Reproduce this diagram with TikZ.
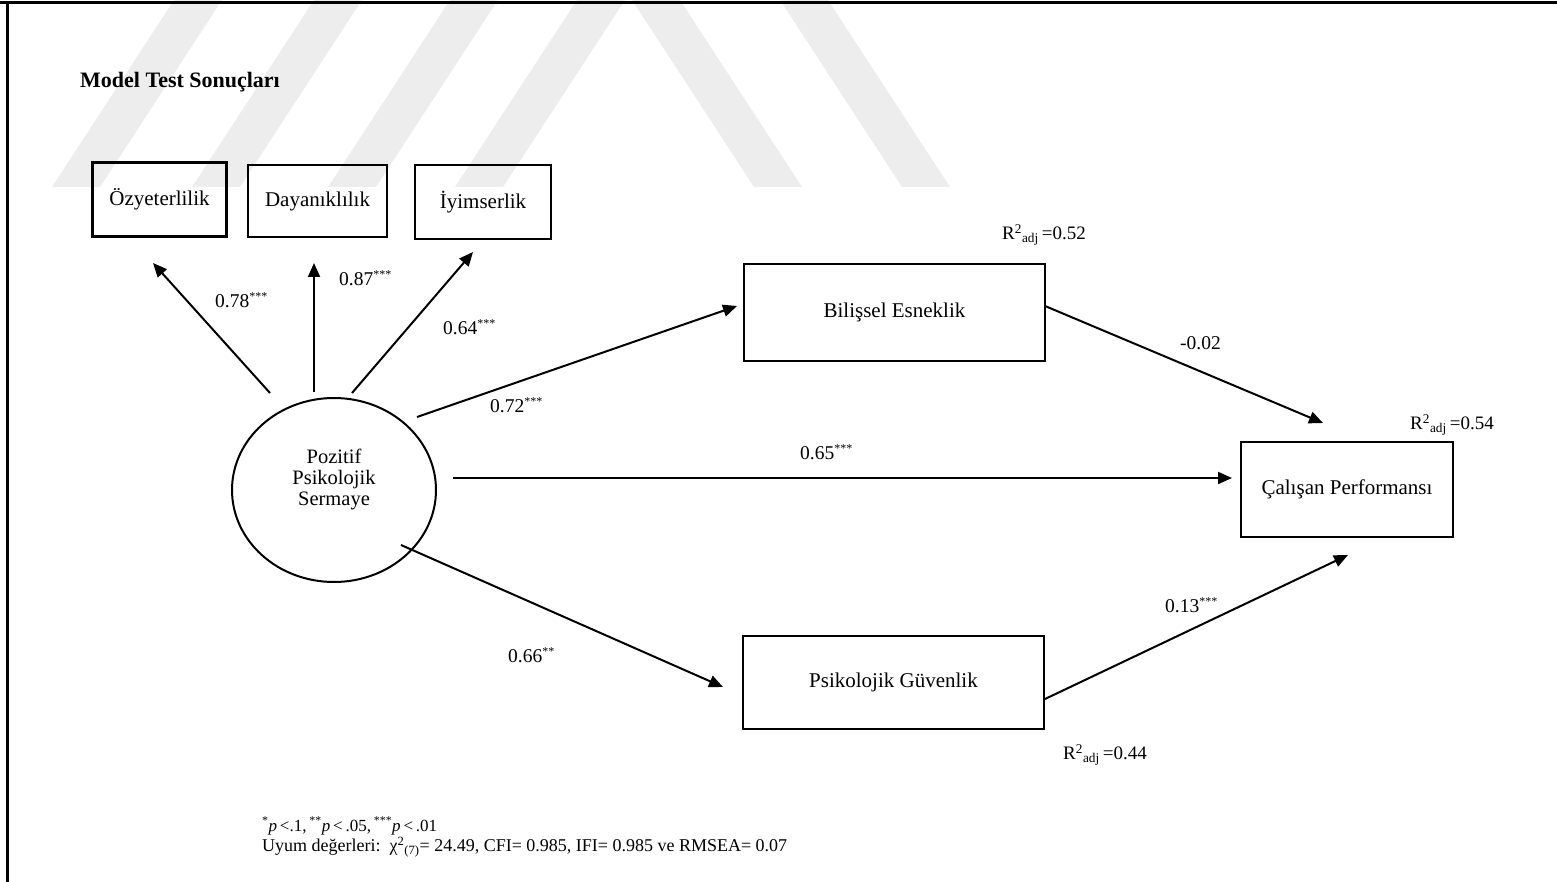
\documentclass[tikz,border=0pt]{standalone}
\usepackage{fontspec}
\setmainfont{Liberation Serif}
\usetikzlibrary{arrows.meta,shapes.geometric}

\tikzset{
  varbox/.style={draw, line width=2.3pt, inner sep=0pt, align=center,
    font=\fontsize{21}{24}\selectfont},
  latent/.style={ellipse, draw, line width=2pt, inner sep=0pt},
  latentlabel/.style={inner sep=0pt, align=center, font=\fontsize{20.5}{21}\selectfont},
  effect/.style={line width=2pt, -{Triangle[length=14pt,width=12pt]}},
  coef/.style={inner sep=0pt, anchor=west, font=\fontsize{19.5}{22}\selectfont},
  note/.style={inner sep=0pt, anchor=west, font=\fontsize{18}{20}\selectfont},
  stripe/.style={fill=black!7, draw=none},
}
\newcommand{\sig}[1]{\textsuperscript{\fontsize{12}{13}\selectfont #1}}

\begin{document}
\begin{tikzpicture}[x=1pt,y=-1pt]
\useasboundingbox (0,0) rectangle (1557,882);

% faint logo bands in the background
\foreach \b in {52,192,328,455}
  \fill[stripe] (\b,187) -- (\b+48,187) -- (\b+170,0) -- (\b+122,0) -- cycle;
\foreach \t in {632,780}
  \fill[stripe] (\t,0) -- (\t+48,0) -- (\t+170,187) -- (\t+122,187) -- cycle;

% page frame
\draw[line width=3pt] (0,3) -- (1557,3);
\draw[line width=3pt] (7,3) -- (7,882);

% title
\node[inner sep=0pt, anchor=west, font=\fontsize{22}{26}\selectfont\bfseries]
  (title) at (80,82) {Model Test Sonuçları};

% indicator boxes
\node[varbox, minimum width=134pt, minimum height=74pt] (ozy) at (159.5,199.5) {Özyeterlilik};
\node[varbox, minimum width=139pt, minimum height=72pt] (day) at (317.5,201) {Dayanıklılık};
\node[varbox, minimum width=136pt, minimum height=74pt] (iyi) at (483,202) {İyimserlik};

% latent construct
\node[latent, minimum width=204pt, minimum height=184pt] (pps) at (334,490) {};
\node[latentlabel] (ppsl) at (334,479) {Pozitif\\Psikolojik\\Sermaye};

% mediators and outcome
\node[varbox, minimum width=301pt, minimum height=97pt] (bil) at (894.5,312.5) {Bilişsel Esneklik};
\node[varbox, minimum width=301pt, minimum height=93pt] (guv) at (893.5,682.5) {Psikolojik Güvenlik};
\node[varbox, minimum width=212pt, minimum height=95pt] (cal) at (1347,489.5) {Çalışan Performansı};

% connector end points
\coordinate (ozyS) at (270,393);  \coordinate (ozyE) at (153,263);
\coordinate (dayS) at (314,392);  \coordinate (dayE) at (314,263);
\coordinate (iyiS) at (352,393);  \coordinate (iyiE) at (473,252);
\coordinate (bilS) at (417,417);  \coordinate (bilE) at (737,306);
\coordinate (calS) at (453,478);  \coordinate (calE) at (1232,478);
\coordinate (guvS) at (401,545);  \coordinate (guvE) at (723,687);
\coordinate (bcS)  at (1045,306); \coordinate (bcE)  at (1323,423);
\coordinate (gcS)  at (1045,699); \coordinate (gcE)  at (1348,555);

% paths
\draw[effect] (ozyS) -- (ozyE);
\draw[effect] (dayS) -- (dayE);
\draw[effect] (iyiS) -- (iyiE);
\draw[effect] (bilS) -- (bilE);
\draw[effect] (calS) -- (calE);
\draw[effect] (guvS) -- (guvE);
\draw[effect] (bcS) -- (bcE);
\draw[effect] (gcS) -- (gcE);

% path coefficients
\node[coef] (c1) at (215,300) {0.78\sig{***}};
\node[coef] (c2) at (339,278) {0.87\sig{***}};
\node[coef] (c3) at (443,327) {0.64\sig{***}};
\node[coef] (c4) at (490,405) {0.72\sig{***}};
\node[coef] (c5) at (800,452) {0.65\sig{***}};
\node[coef] (c6) at (1180,343) {-0.02};
\node[coef] (c7) at (508,655) {0.66\sig{**}};
\node[coef] (c8) at (1165,605) {0.13\sig{***}};

% explained variance
\node[coef, font=\fontsize{19}{22}\selectfont] (r1) at (1002,235) {R\textsuperscript{2}\textsubscript{adj}\,=0.52};
\node[coef, font=\fontsize{19}{22}\selectfont] (r2) at (1410,425) {R\textsuperscript{2}\textsubscript{adj}\,=0.54};
\node[coef, font=\fontsize{19}{22}\selectfont] (r3) at (1063,755) {R\textsuperscript{2}\textsubscript{adj}\,=0.44};

% notes
\node[note, font=\fontsize{17}{20}\selectfont] (n1) at (262,826)
  {\textsuperscript{*}\textit{p}\,<.1,\,\textsuperscript{**}\textit{p}\,<\,.05,\,\textsuperscript{***}\textit{p}\,<\,.01};
\node[note] (n2) at (262,847) {Uyum değerleri:\ \ χ\textsuperscript{2}\textsubscript{(7)}= 24.49, CFI= 0.985, IFI= 0.985 ve RMSEA=\ 0.07};
\end{tikzpicture}
\end{document}
